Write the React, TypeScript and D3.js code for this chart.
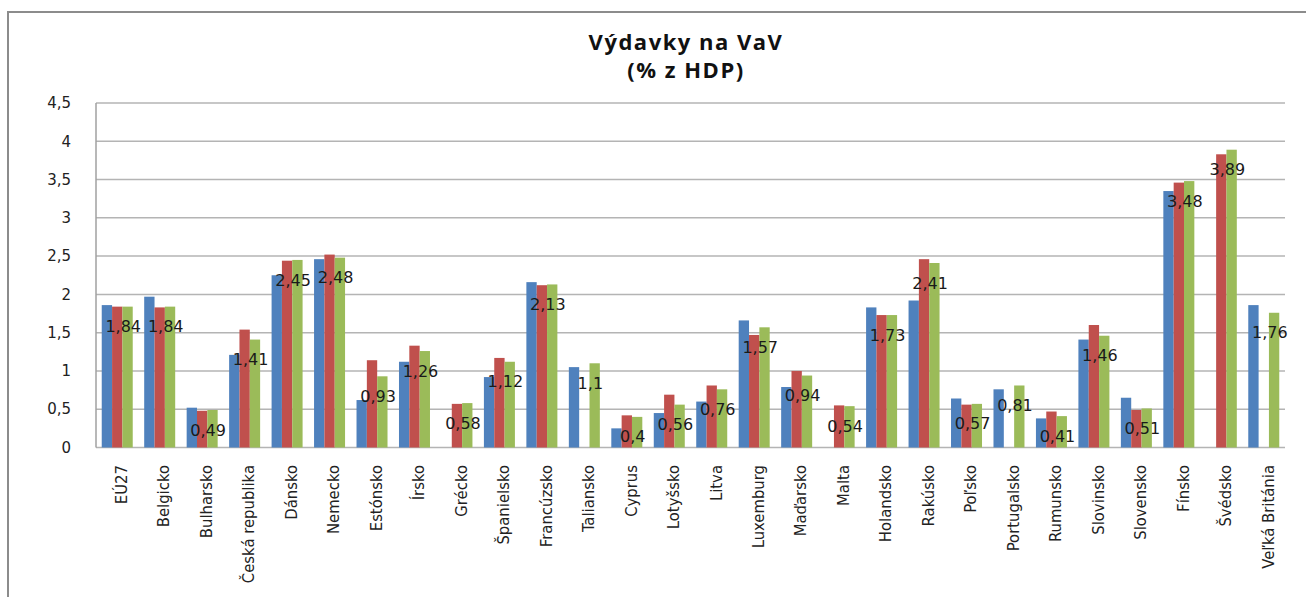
import React, { useEffect, useRef } from 'react';
import * as d3 from 'd3';

const countries = [
  'EÚ27', 'Belgicko', 'Bulharsko', 'Česká republika', 'Dánsko', 'Nemecko', 'Estónsko', 'Írsko',
  'Grécko', 'Španielsko', 'Francúzsko', 'Taliansko', 'Cyprus', 'Lotyšsko', 'Litva', 'Luxemburg',
  'Maďarsko', 'Malta', 'Holandsko', 'Rakúsko', 'Poľsko', 'Portugalsko', 'Rumunsko', 'Slovinsko',
  'Slovensko', 'Fínsko', 'Švédsko', 'Veľká Británia',
];

// three series, no legend in the original
const blueValues = [1.86, 1.97, 0.52, 1.21, 2.25, 2.46, 0.62, 1.12, null, 0.92, 2.16, 1.05, 0.25, 0.45, 0.6, 1.66, 0.79, null, 1.83, 1.92, 0.64, 0.76, 0.38, 1.41, 0.65, 3.35, null, 1.86];
const redValues = [1.84, 1.83, 0.48, 1.54, 2.44, 2.52, 1.14, 1.33, 0.57, 1.17, 2.12, null, 0.42, 0.69, 0.81, 1.47, 1.0, 0.55, 1.73, 2.46, 0.56, null, 0.47, 1.6, 0.49, 3.46, 3.83, null];
const greenValues = [1.84, 1.84, 0.49, 1.41, 2.45, 2.48, 0.93, 1.26, 0.58, 1.12, 2.13, 1.1, 0.4, 0.56, 0.76, 1.57, 0.94, 0.54, 1.73, 2.41, 0.57, 0.81, 0.41, 1.46, 0.51, 3.48, 3.89, 1.76];

const yTicks = [0, 0.5, 1, 1.5, 2, 2.5, 3, 3.5, 4, 4.5];
const seriesColors = ['#4F81BD', '#C0504D', '#9BBB59'];

const W = 1306;
const H = 597;

const fmt = (v: number) => String(v).replace('.', ',');

const App = () => {
  const ref = useRef<SVGGElement>(null);

  useEffect(() => {
    const g = d3.select(ref.current);
    g.selectAll('*').remove();

    const left = 96, right = 1285, top = 103, bottom = 447.5;

    const x0 = d3.scaleBand().domain(countries).range([left, right]).paddingInner(0.27).paddingOuter(0.135);
    const x1 = d3.scaleBand().domain(['0', '1', '2']).range([0, x0.bandwidth()]);
    const y = d3.scaleLinear().domain([0, 4.5]).range([bottom, top]);

    // gridlines
    g.append('g')
      .selectAll('line')
      .data(yTicks)
      .enter()
      .append('line')
      .attr('x1', left)
      .attr('x2', right)
      .attr('y1', (d) => y(d))
      .attr('y2', (d) => y(d))
      .attr('stroke', '#b4b4b4')
      .attr('stroke-width', 1.5);

    g.append('line')
      .attr('x1', left).attr('x2', left)
      .attr('y1', top).attr('y2', bottom)
      .attr('stroke', '#a0a0a0')
      .attr('stroke-width', 1.5);

    // y tick labels
    g.append('g')
      .selectAll('text')
      .data(yTicks)
      .enter()
      .append('text')
      .attr('x', 71)
      .attr('y', (d) => y(d))
      .attr('dy', '0.35em')
      .attr('text-anchor', 'end')
      .style('font-family', 'DejaVu Sans')
      .style('font-size', '15px')
      .style('fill', '#222')
      .text((d) => fmt(d));

    // bars
    const series = [blueValues, redValues, greenValues];
    series.forEach((vals, si) => {
      g.append('g')
        .selectAll('rect')
        .data(vals.map((v, i) => ({ v, c: countries[i] })).filter((d) => d.v !== null))
        .enter()
        .append('rect')
        .attr('x', (d) => x0(d.c)! + x1(String(si))!)
        .attr('y', (d) => y(d.v as number))
        .attr('width', x1.bandwidth())
        .attr('height', (d) => bottom - y(d.v as number))
        .attr('fill', seriesColors[si]);
    });

    // value labels for the green series
    g.append('g')
      .selectAll('text')
      .data(greenValues.map((v, i) => ({ v, c: countries[i] })))
      .enter()
      .append('text')
      .attr('x', (d) => x0(d.c)! + x0.bandwidth() / 2 + 6)
      .attr('y', (d) => y(d.v) + 20)
      .attr('dy', '0.35em')
      .attr('text-anchor', 'middle')
      .style('font-family', 'DejaVu Sans')
      .style('font-size', '16px')
      .style('fill', '#1a1a1a')
      .text((d) => fmt(d.v));

    // category labels
    g.append('g')
      .selectAll('text')
      .data(countries)
      .enter()
      .append('text')
      .attr('transform', (d) => `translate(${x0(d)! + x0.bandwidth() / 2 + 4},465) rotate(-90)`)
      .attr('dy', '0.35em')
      .attr('text-anchor', 'end')
      .style('font-family', 'DejaVu Sans Condensed, Liberation Sans Narrow, sans-serif')
      .style('font-stretch', 'condensed')
      .style('font-size', '16.5px')
      .style('fill', '#222')
      .text((d) => d);
  }, []);

  const titleStyle = { fontFamily: 'Open Sans', fontWeight: 700, fontSize: 22, letterSpacing: '1.5px', fill: '#111' };

  return (
    <svg width={W} height={H} style={{ position: 'absolute', left: 0, top: 0, background: '#fff' }}>
      <rect x={8} y={12} width={W + 20} height={H + 20} fill="#fff" stroke="#8c8c8c" strokeWidth={2} />
      <text x={686} y={50} textAnchor="middle" style={titleStyle}>
        Výdavky na VaV
      </text>
      <text x={686} y={78} textAnchor="middle" style={titleStyle}>
        (% z HDP)
      </text>
      <g ref={ref} />
    </svg>
  );
};

export default App;
